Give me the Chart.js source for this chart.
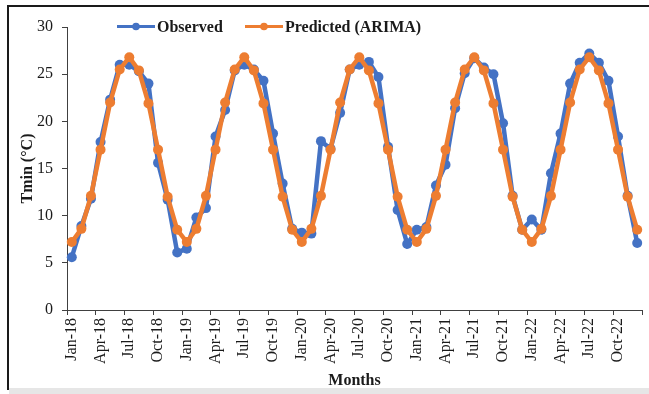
<!DOCTYPE html>
<html>
<head>
<meta charset="utf-8">
<script src="https://cdn.jsdelivr.net/npm/chart.js@4.4.1/dist/chart.umd.min.js"></script>
<style>
html, body { margin: 0; padding: 0; background: #fff; }
body { width: 649px; height: 394px; position: relative; overflow: hidden; }
#frame { position: absolute; left: 7px; top: 5px; width: 700px; height: 385px; border-left: 2px solid #1a1a1a; border-top: 2px solid #1a1a1a; box-sizing: border-box; }
#shade { position: absolute; left: 9px; top: 388px; width: 700px; height: 6px; background: #e6e6e6; }
#grafica { position: absolute; left: 0; top: 0; }
</style>
</head>
<body>
<div id="frame"></div>
<div id="shade"></div>
<canvas id="grafica" width="649" height="394"></canvas>
<script>
const months = ["Jan", "Feb", "Mar", "Apr", "May", "Jun", "Jul", "Aug", "Sep", "Oct", "Nov", "Dec"];
const years = ["18", "19", "20", "21", "22"];
const labels = years.flatMap(y => months.map(m => m + "-" + y));

// Tmin observed, Jan-18 .. Dec-22
const observed = [
    5.6, 8.9, 11.8, 17.8, 22.3, 26.0, 26.0, 25.3, 24.0, 15.6, 11.7, 6.1,
    6.5, 9.8, 10.8, 18.4, 21.2, 25.4, 26.0, 25.5, 24.3, 18.7, 13.4, 8.6,
    8.2, 8.1, 17.9, 17.1, 20.9, 25.5, 26.0, 26.3, 24.7, 17.3, 10.6, 7.0,
    8.5, 8.8, 13.2, 15.4, 21.4, 25.1, 26.7, 25.7, 25.0, 19.8, 12.1, 8.5,
    9.6, 8.5, 14.5, 18.7, 24.0, 26.2, 27.2, 26.2, 24.3, 18.4, 12.1, 7.1
];
// ARIMA prediction
const predicted = [
    7.2, 8.6, 12.1, 17.0, 22.0, 25.5, 26.8, 25.4, 21.9, 17.0, 12.0, 8.5,
    7.2, 8.6, 12.1, 17.0, 22.0, 25.5, 26.8, 25.4, 21.9, 17.0, 12.0, 8.5,
    7.2, 8.6, 12.1, 17.0, 22.0, 25.5, 26.8, 25.4, 21.9, 17.0, 12.0, 8.5,
    7.2, 8.6, 12.1, 17.0, 22.0, 25.5, 26.8, 25.4, 21.9, 17.0, 12.0, 8.5,
    7.2, 8.6, 12.1, 17.0, 22.0, 25.5, 26.8, 25.4, 21.9, 17.0, 12.0, 8.5
];

const serif = "'Liberation Serif', 'Times New Roman', serif";
const axisColor = "#404040";
const textColor = "#1a1a1a";

Chart.defaults.font.family = serif;
Chart.defaults.font.size = 16;
Chart.defaults.color = textColor;

// legend drawn by hand: line + dot, like the spreadsheet one
const refLegend = {
    id: "refLegend",
    afterDraw(chart) {
        const ctx = chart.ctx;
        const items = [{ x: 117, ds: 0 }, { x: 245, ds: 1 }];
        const y = 26.5;
        ctx.save();
        ctx.font = "bold 16px " + serif;
        ctx.textBaseline = "middle";
        items.forEach(it => {
            const ds = chart.data.datasets[it.ds];
            ctx.strokeStyle = ds.borderColor;
            ctx.lineWidth = 3;
            ctx.beginPath();
            ctx.moveTo(it.x, y);
            ctx.lineTo(it.x + 38, y);
            ctx.stroke();
            ctx.fillStyle = ds.borderColor;
            ctx.beginPath();
            ctx.arc(it.x + 19, y, 3.8, 0, Math.PI * 2);
            ctx.fill();
            ctx.fillStyle = textColor;
            ctx.fillText(ds.label, it.x + 40, y + 1);
        });
        ctx.restore();
    }
};

const ctx = document.getElementById("grafica").getContext("2d");
const chart = new Chart(ctx, {
    type: "line",
    data: {
        labels: labels,
        datasets: [{
            label: "Observed",
            data: observed,
            borderColor: "#4472C4",
            backgroundColor: "#4472C4",
            borderWidth: 4.5,
            pointRadius: 5,
            pointBorderWidth: 0,
            tension: 0,
            order: 2
        }, {
            label: "Predicted (ARIMA)",
            data: predicted,
            borderColor: "#ED7D31",
            backgroundColor: "#ED7D31",
            borderWidth: 4.5,
            pointRadius: 5,
            pointBorderWidth: 0,
            tension: 0,
            order: 1
        }]
    },
    options: {
        responsive: false,
        animation: false,
        devicePixelRatio: 1,
        layout: { padding: { left: 7, right: 7, top: 27, bottom: 4 } },
        plugins: {
            legend: { display: false },
            tooltip: { enabled: false }
        },
        scales: {
            x: {
                type: "category",
                offset: true,
                afterFit: (scale) => {
                    scale.height = 80;
                    scale.paddingLeft = 0;
                    scale.paddingRight = 0;
                },
                grid: {
                    offset: true,
                    drawOnChartArea: false,
                    tickLength: 5,
                    tickColor: (c) => (c.index === undefined || c.index % 3 === 0) ? axisColor : "rgba(0,0,0,0)"
                },
                border: { color: axisColor, width: 1 },
                ticks: {
                    autoSkip: false,
                    minRotation: 90,
                    maxRotation: 90,
                    padding: 3,
                    color: textColor,
                    font: { size: 16 },
                    callback: (v, i) => i % 3 === 0 ? labels[i] : ""
                },
                title: {
                    display: true,
                    text: "Months",
                    color: textColor,
                    font: { size: 16, weight: "bold" },
                    padding: { top: 2, bottom: 0 }
                }
            },
            y: {
                min: 0,
                max: 30,
                afterFit: (scale) => { scale.width = 60; },
                grid: {
                    drawOnChartArea: false,
                    tickLength: 5,
                    tickColor: axisColor
                },
                border: { color: axisColor, width: 1 },
                ticks: {
                    stepSize: 5,
                    padding: 9,
                    color: textColor,
                    font: { size: 16 }
                },
                title: {
                    display: true,
                    text: "Tmin (°C)",
                    color: textColor,
                    font: { size: 16, weight: "bold" },
                    padding: { top: 11, bottom: 0 }
                }
            }
        }
    },
    plugins: [refLegend]
});
</script>
</body>
</html>
